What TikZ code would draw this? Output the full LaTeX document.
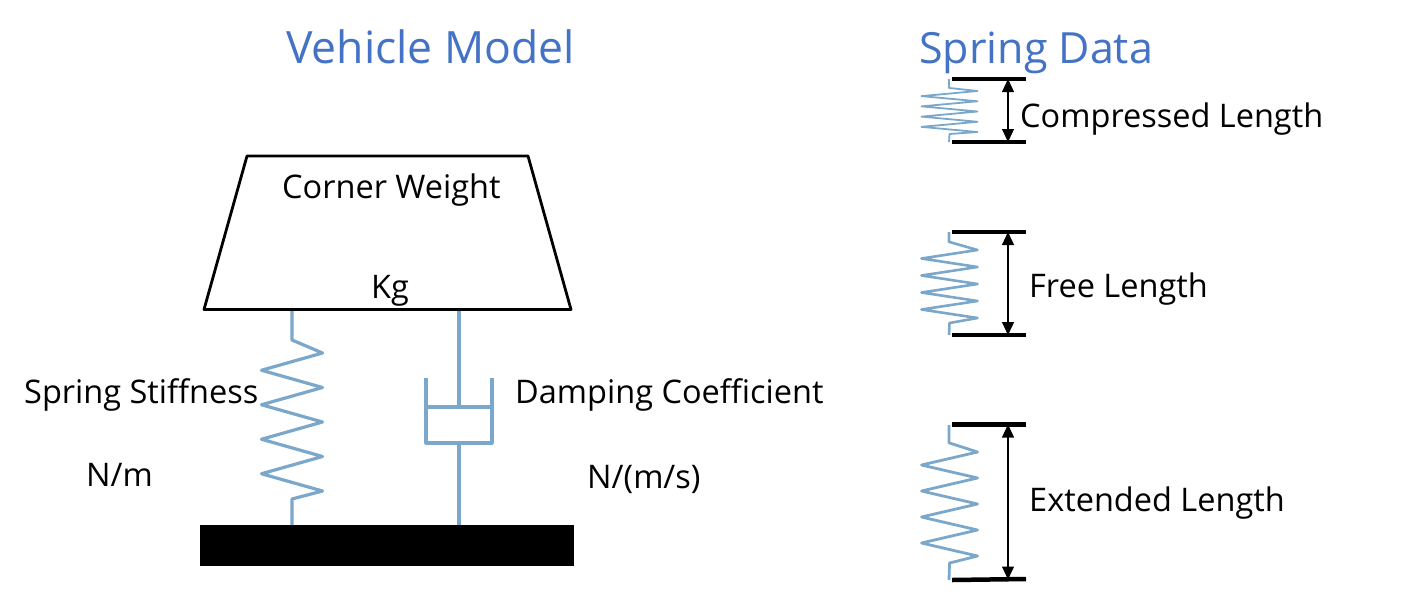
\documentclass[tikz,border=0pt]{standalone}
\usepackage{fontspec}
\setmainfont{Open Sans}
\usetikzlibrary{arrows.meta}
\definecolor{titleblue}{HTML}{4472C4}
\definecolor{coilblue}{HTML}{7BA7CB}
\tikzset{
  title/.style={anchor=base west,inner sep=0pt,text=titleblue,font=\fontsize{44.5}{50}\selectfont},
  label/.style={anchor=base west,inner sep=0pt,font=\fontsize{32.5}{38}\selectfont},
  coil/.style={draw=coilblue,line width=3.2pt,line join=round},
  plate/.style={line width=4.5pt},
  span/.style={line width=1.2pt,{Triangle[length=13pt,width=12pt]}-{Triangle[length=13pt,width=12pt]}}
}
% from, to, knee top y, first y, last y, knee bottom y, centre x, half width
\newcommand{\coilspring}[9][]{
\draw[coil,#1] (#2) |- (#8,#4) \foreach \k [evaluate=\k as \yk using {#5+(#6-#5)*\k/8},
  evaluate=\k as \xk using {#8+#9*(1-2*mod(\k,2))}] in {0,...,8} { -- (\xk,\yk) } -- (#8,#7) -- (#3);
}
\begin{document}
\begin{tikzpicture}[x=1pt,y=-1pt]
\useasboundingbox (0,0) rectangle (1418,592);

\node[title] (vehicletitle) at (286,63) {Vehicle Model};
\node[title,font=\fontsize{43}{50}\selectfont] (datatitle) at (919,63) {Spring Data};

% vehicle model
\coordinate (bodyA) at (247,156);
\coordinate (bodyB) at (528,156);
\coordinate (bodyC) at (571,309.5);
\coordinate (bodyD) at (204,309.5);
\coordinate (springtop) at (292,309.5);
\coordinate (dampertop) at (459,309.5);
\node[fill=black,minimum width=374pt,minimum height=41pt,inner sep=0pt] (ground) at (387,545.5) {};
\coordinate (springbot) at (292,525);
\coordinate (damperbot) at (459,525);
\coordinate (piston) at (459,407);
\coordinate (cylinder) at (459,443);

\coilspring{springtop}{springbot}{340}{353}{491}{499}{292}{30.5}
\draw[coil] (dampertop) -- (piston);
\draw[coil] (cylinder) -- (damperbot);
\draw[coil] (426,378) |- (cylinder) -| (492,378);
\draw[coil] (426,407) -- (piston) -- (492,407);
\draw[line width=2.8pt,line join=round] (bodyA) -- (bodyB) -- (bodyC) -- (bodyD) -- cycle;

\node[label] (cornerweight) at (282,198) {Corner Weight};
\node[label] (kg) at (371,298) {Kg};
\node[label] (stiffness) at (24,403) {Spring Stiffness};
\node[label] (stiffunit) at (86,486) {N/m};
\node[label] (damping) at (515,403) {Damping Coefficient};
\node[label] (dampunit) at (587,488) {N/(m/s)};

% spring data
\foreach \name/\ya/\yb in {comp/79/142,free/232/335}{
  \coordinate (\name A) at (952,\ya);
  \coordinate (\name B) at (1026,\ya);
  \coordinate (\name C) at (952,\yb);
  \coordinate (\name D) at (1026,\yb);
  \coordinate (\name S) at (1008,\ya);
  \coordinate (\name E) at (1008,\yb);
}
\coordinate (extA) at (952,424.5);
\coordinate (extB) at (1026,424.5);
\coordinate (extC) at (952,580);
\coordinate (extD) at (1026,579);
\coordinate (extS) at (1008,424.5);
\coordinate (extE) at (1008,579.5);

\coilspring[line width=1.8pt]{949,79}{949,142}{88}{91}{132}{134}{949.5}{28}
\coilspring[line width=2.6pt]{949,232}{949,335}{242}{250}{318}{323}{949.5}{28}
\coilspring[line width=2.8pt]{949,425}{949,580}{443}{452}{556}{563}{949.5}{28}

\foreach \name in {comp,free,ext}{
  \draw[plate] (\name A) -- (\name B);
  \draw[plate] (\name C) -- (\name D);
  \draw[span] (\name S) -- (\name E);
}

\node[label] (complabel) at (1020,127) {Compressed Length};
\node[label] (freelabel) at (1029,297) {Free Length};
\node[label] (extlabel) at (1029,511) {Extended Length};
\end{tikzpicture}
\end{document}
